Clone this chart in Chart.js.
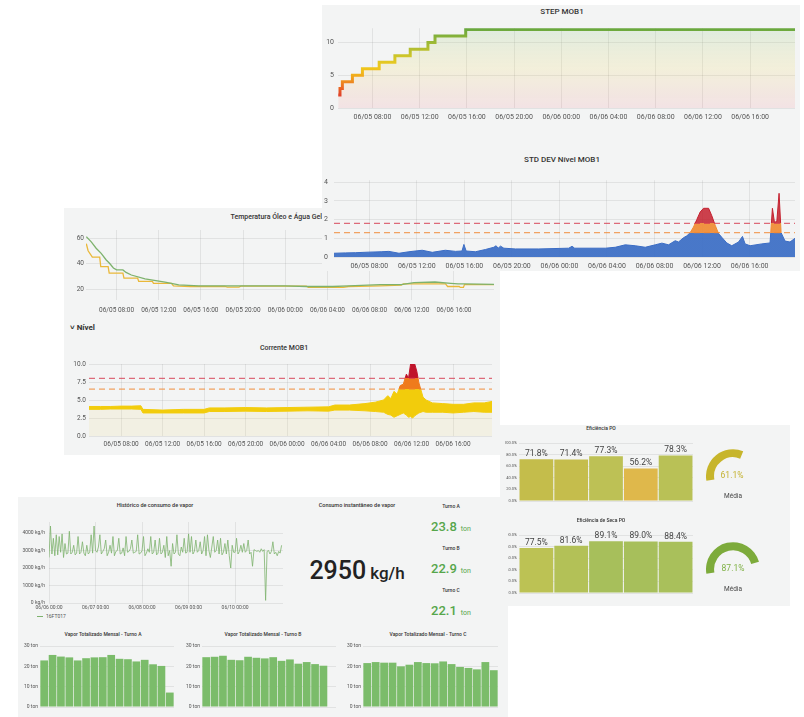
<!DOCTYPE html>
<html>
<head>
<meta charset="utf-8">
<script src="https://cdn.jsdelivr.net/npm/chart.js@4.4.0/dist/chart.umd.min.js"></script>
<style>
body { margin: 0; width: 804px; height: 717px; background: #fff; position: relative; overflow: hidden; font-family: Roboto, sans-serif; color: #333; }
.panel { position: absolute; background: #f3f4f4; }
.panel canvas { position: absolute; }
.t { position: absolute; transform: translate(-50%, -50%); white-space: nowrap; line-height: 1; }
.ttl { font-weight: 500; color: #333; }
</style>
</head>
<body>

<div class="panel" style="left:64px;top:208px;width:436px;height:247px;z-index:1">
  <div class="t ttl" style="left:218px;top:9px;font-size:7px">Temperatura Óleo e Água Gelada</div>
  <canvas id="temp" width="436" height="95" style="left:0;top:14px"></canvas>
  <div style="position:absolute;left:6px;top:115px;font-size:8px;font-weight:700;color:#333;white-space:nowrap">˅ Nível</div>
  <div class="t ttl" style="left:220px;top:140px;font-size:7px">Corrente MOB1</div>
  <canvas id="corrente" width="436" height="96" style="left:0;top:147px"></canvas>
</div>

<div class="panel" style="left:322px;top:5px;width:478px;height:266px;z-index:2">
  <div class="t ttl" style="left:240px;top:7px;font-size:8px">STEP MOB1</div>
  <canvas id="step" width="478" height="105" style="left:0;top:15px"></canvas>
  <div class="t ttl" style="left:240px;top:155px;font-size:8px">STD DEV Nível MOB1</div>
  <canvas id="stddev" width="478" height="100" style="left:0;top:165px"></canvas>
</div>

<div class="panel" style="left:500px;top:425px;width:290px;height:181px;z-index:1">
  <div class="t ttl" style="left:101px;top:3px;font-size:5px">Eficiência PO</div>
  <canvas id="eff1" width="195" height="77" style="left:5px;top:11px"></canvas>
  <canvas id="gauge1" width="54" height="32" style="left:206px;top:24px"></canvas>
  <div class="t" style="left:232px;top:50px;font-size:8.5px;color:#c4b230">61.1%</div>
  <div class="t" style="left:233px;top:71px;font-size:6.5px;color:#444">Média</div>
  <div class="t ttl" style="left:101px;top:95px;font-size:5px">Eficiência de Seca PO</div>
  <canvas id="eff2" width="195" height="77" style="left:5px;top:103px"></canvas>
  <canvas id="gauge2" width="54" height="32" style="left:206px;top:117px"></canvas>
  <div class="t" style="left:233px;top:143px;font-size:8.5px;color:#7eb043">87.1%</div>
  <div class="t" style="left:233px;top:164px;font-size:6.5px;color:#444">Média</div>
</div>

<div class="panel" style="left:18px;top:497px;width:490px;height:220px;z-index:2">
  <div class="t ttl" style="left:137px;top:9px;font-size:5.5px">Histórico de consumo de vapor</div>
  <canvas id="hist" width="270" height="100" style="left:0;top:15px"></canvas>
  <div style="position:absolute;left:19px;top:116px;font-size:5px;color:#555;white-space:nowrap"><span style="display:inline-block;width:6px;height:1.5px;background:#7EB26D;vertical-align:middle;margin-right:3px"></span>16FT017</div>
  <div class="t ttl" style="left:339px;top:9px;font-size:5.5px">Consumo instantâneo de vapor</div>
  <div class="t" style="left:339px;top:73px;color:#222"><span style="font-size:25px;font-weight:500">2950</span> <span style="font-size:17px;font-weight:500">kg/h</span></div>
  <div class="t ttl" style="left:433px;top:9px;font-size:5px">Turno A</div>
  <div class="t" style="left:433px;top:29px;color:#56a64b"><span style="font-size:13px;font-weight:500">23.8</span> <span style="font-size:7px">ton</span></div>
  <div class="t ttl" style="left:433px;top:51px;font-size:5px">Turno B</div>
  <div class="t" style="left:433px;top:71px;color:#56a64b"><span style="font-size:13px;font-weight:500">22.9</span> <span style="font-size:7px">ton</span></div>
  <div class="t ttl" style="left:433px;top:93px;font-size:5px">Turno C</div>
  <div class="t" style="left:433px;top:113px;color:#56a64b"><span style="font-size:13px;font-weight:500">22.1</span> <span style="font-size:7px">ton</span></div>
  <div class="t ttl" style="left:85px;top:137px;font-size:5px">Vapor Totalizado Mensal - Turno A</div>
  <div class="t ttl" style="left:245px;top:137px;font-size:5px">Vapor Totalizado Mensal - Turno B</div>
  <div class="t ttl" style="left:410px;top:137px;font-size:5px">Vapor Totalizado Mensal - Turno C</div>
  <canvas id="turnoA" width="160" height="77" style="left:0;top:143px"></canvas>
  <canvas id="turnoB" width="160" height="77" style="left:162px;top:143px"></canvas>
  <canvas id="turnoC" width="162" height="77" style="left:322px;top:143px"></canvas>
</div>

<script>
// hours counted from 06/05 00:00
var stepTime = [5.1, 5.25, 5.45, 6.3, 7.15, 8.57, 9.9, 11.2, 12.7, 13.3, 15.9, 43.8];
var stepValue = [2, 3, 4, 5, 6, 7, 8, 9, 10, 11, 12, 12];

var stdTime = [5.03, 6.0, 6.85, 7.97, 9.0, 9.65, 10.5, 11.33, 12.45, 13.3, 14.4, 15.25, 15.8, 15.96, 16.15,
  16.93, 17.77, 18.48, 18.67, 18.84, 19.04, 19.32, 20.3, 22.26, 24.78, 25.06, 25.28, 27.86, 28.7, 29.54,
  30.38, 31.22, 32.06, 32.62, 33.18, 33.74, 34.02, 34.44, 34.72, 35.0, 35.28, 35.56, 35.84, 36.12, 36.55,
  36.82, 37.1, 37.39, 37.66, 38.08, 38.5, 39.07, 39.4, 39.62, 40.04, 41.03, 41.72, 41.92, 42.09, 42.29,
  42.48, 42.65, 42.98, 43.4, 43.82];
var stdValue = [0.2, 0.22, 0.23, 0.26, 0.28, 0.3, 0.2, 0.28, 0.36, 0.25, 0.36, 0.3, 0.32, 0.67, 0.32,
  0.28, 0.4, 0.52, 0.6, 0.47, 0.58, 0.47, 0.43, 0.43, 0.47, 0.57, 0.47, 0.47, 0.52, 0.65,
  0.6, 0.52, 0.65, 0.74, 0.65, 0.87, 0.8, 1.03, 1.13, 1.3, 1.6, 2.0, 2.4, 2.6, 2.6,
  2.2, 1.7, 1.25, 1.05, 0.75, 0.6, 0.8, 1.1, 0.7, 0.6, 0.7, 0.75, 2.6, 1.85, 1.9,
  3.4, 1.3, 0.85, 0.8, 1.0];
var stdThresholds = [1.3, 1.8];

var oleoTime = [5.13, 5.6, 6.06, 6.54, 7.0, 7.35, 7.7, 8.0, 8.6, 8.9, 9.4, 10.7, 12.6, 13.9, 15.8,
  20, 24, 26, 28.5, 30, 31.8, 33, 35, 36.2, 38.2, 39.7, 40.4, 41, 43.8];
var oleoValue = [61, 57, 52, 48, 43, 40, 36.5, 35, 35, 33, 31, 28, 25.5, 23.3, 22.5,
  22.5, 22.5, 22, 22, 22.5, 23, 23.5, 23.5, 25, 25.5, 24.5, 24, 24, 23.7];
var aguaTime = [5.13, 5.3, 5.7, 6.4, 6.5, 7.2, 7.3, 8.6, 8.7, 10.0, 10.1, 11.4, 11.5, 13.2, 13.4,
  15, 18.3, 18.5, 19.6, 19.8, 26, 26.2, 29.5, 30, 33, 35, 35.2, 39.2, 39.4, 40.5, 40.6, 40.9, 41, 43.8];
var aguaValue = [55.5, 50, 45, 45, 37.5, 37.5, 32.5, 32.5, 28.5, 28.5, 26, 26, 24.5, 24.5, 22.5,
  22, 22, 21.5, 21.5, 22.3, 22.3, 21.3, 21.3, 22, 22.5, 23, 24, 24, 22, 22, 21.3, 21.3, 23.5, 23.5];

// Corrente MOB1: noisy band given by its upper and lower edge
var corrTime = [4.9, 6, 7, 8, 9, 9.9, 10.1, 12, 14, 16, 16.5, 18, 20, 22, 24, 26, 28, 28.6, 30, 31.5,
  32.5, 33.3, 33.7, 34.0, 34.3, 34.6, 34.9, 35.2, 35.5, 35.7, 35.9, 36.1, 36.3, 36.5, 36.7,
  36.9, 37.1, 37.4, 38, 39, 40, 41, 42, 43, 43.75];
var corrUpper = [4.1, 4.1, 4.1, 4.15, 4.15, 4.2, 3.7, 3.6, 3.7, 3.7, 3.9, 3.9, 3.95, 3.9, 3.95, 4.0, 4.05, 4.3, 4.3, 4.5,
  4.7, 5.0, 5.6, 5.2, 6.2, 5.8, 7.0, 7.2, 8.6, 8.0, 10, 10, 10, 9.0, 7.4,
  6.4, 5.4, 5.0, 4.6, 4.5, 4.4, 4.4, 4.6, 4.6, 4.8];
var corrLower = [3.7, 3.7, 3.75, 3.75, 3.75, 3.7, 3.2, 3.2, 3.2, 3.2, 3.4, 3.4, 3.45, 3.4, 3.45, 3.5, 3.45, 3.6, 3.6, 3.5,
  3.4, 3.3, 3.0, 2.9, 2.6, 2.8, 3.0, 3.2, 2.9, 2.6, 2.7, 2.5, 2.8, 3.0, 3.2,
  3.3, 3.4, 3.3, 3.3, 3.3, 3.2, 3.3, 3.4, 3.3, 3.3];
var corrThresholds = [6.5, 8];

var effDays = ['06/06 00:00', '06/07 00:00', '06/08 00:00', '06/09 00:00', '06/10 00:00'];
var effPO = [71.8, 71.4, 77.3, 56.2, 78.3];
var effSeca = [77.5, 81.6, 89.1, 89.0, 88.4];
var mediaPO = 61.1;
var mediaSeca = 87.1;

// 16FT017, one sample every 45 minutes from 06/06 00:00
var histDays = ['06/06 00:00', '06/07 00:00', '06/08 00:00', '06/09 00:00', '06/10 00:00'];
var histValue = [
  2600, 4400, 2800, 3700, 2700, 3900, 2750, 3800, 2900, 3950, 2600, 3400, 2800, 2850, 4100, 2800,
  2900, 3300, 2750, 2850, 3800, 2800, 2900, 3500, 2850, 2700, 3300, 2800, 2900, 3900, 2850, 4400,
  3000, 2900, 3200, 3900, 2800, 2950, 3100, 3600, 2700, 2900, 3300, 2850, 3800, 2700, 2950, 3000,
  3700, 2800, 2850, 3150, 2700, 3800, 2900, 2950, 3100, 3600, 2850, 2900, 2950, 3900, 2800, 2850,
  3000, 3800, 2700, 2850, 3100, 2900, 3800, 2800, 2900, 3600, 2750, 2850, 3700, 2800, 2900, 3300,
  2600, 3800, 2700, 3000, 2100, 3400, 2800, 2900, 3900, 2800, 2700, 3200, 2900, 3700, 2850, 2900,
  3950, 2900, 3800, 2800, 2950, 3600, 2900, 3000, 3500, 2800, 3000, 3800, 2700, 3900, 3000, 2600,
  3200, 3800, 2900, 3000, 3600, 2800, 3700, 2750, 2900, 3400, 2800, 3600, 2700, 2000, 3300, 2900,
  2900, 3700, 2800, 2950, 3300, 2900, 3400, 2900, 3000, 3600, 2800, 2900, 2100, 3050, 3000, 2950,
  3000, 2900, 3100, 2950, 3050, 150, 2950, 3000, 2800, 2950, 3500, 2800, 2900, 2700, 2950, 2850, 3300];

var monthDays = ['06/01', '06/02', '06/03', '06/04', '06/05', '06/06', '06/07', '06/08',
  '06/09', '06/10', '06/11', '06/12', '06/13', '06/14', '06/15', '06/16'];
var turnoA = [22.9, 25.6, 24.8, 24.4, 22.9, 24.0, 24.4, 24.5, 25.6, 23.7, 23.5, 22.4, 23.2, 21.0, 20.2, 7.1];
var turnoB = [24.5, 24.7, 25.2, 23.2, 23.0, 24.7, 24.2, 23.9, 24.5, 22.7, 23.4, 21.3, 22.1, 21.1, 20.3, null];
var turnoC = [21.6, 22.1, 21.8, 21.8, 20.0, 20.8, 22.1, 21.6, 21.5, 22.4, 21.1, 19.7, 19.2, 18.5, 22.1, 18.1];

var hourTicks = [8, 12, 16, 20, 24, 28, 32, 36, 40];

var FONT = 'Roboto';
var GRID = 'rgba(0,0,0,0.07)';
var TICK = '#555';

function pairs(xs, ys) {
  return xs.map(function (x, i) { return { x: x, y: ys[i] }; });
}

function hourLabel(v) {
  var day = v < 24 ? '06/05' : '06/06';
  var hh = String(v % 24).padStart(2, '0');
  return day + ' ' + hh + ':00';
}

function fixedTicks(values) {
  return function (s) { s.ticks = values.map(function (v) { return { value: v }; }); };
}

function hourAxis(min, max, size, pad, height) {
  return {
    type: 'linear', min: min, max: max,
    afterBuildTicks: fixedTicks(hourTicks),
    afterFit: function (s) { s.height = height; },
    grid: { color: GRID, drawTicks: false },
    border: { display: false },
    ticks: { callback: hourLabel, color: TICK, font: { family: FONT, size: size }, padding: pad, maxRotation: 0, autoSkip: false }
  };
}

function valueAxis(min, max, values, size, pad, width, fmt) {
  return {
    type: 'linear', min: min, max: max,
    afterBuildTicks: fixedTicks(values),
    afterFit: function (s) { s.width = width; },
    grid: { color: GRID, drawTicks: false },
    border: { display: false },
    ticks: { callback: fmt || function (v) { return v; }, color: TICK, font: { family: FONT, size: size }, padding: pad }
  };
}

function base(padding, scales) {
  return {
    responsive: false, animation: false, devicePixelRatio: 1, events: [],
    layout: { padding: padding },
    elements: { point: { radius: 0 }, line: { tension: 0 } },
    plugins: { legend: { display: false }, tooltip: { enabled: false }, title: { display: false } },
    scales: scales
  };
}

// vertical gradient whose stops are given as [value, colour] on the y scale
function valueGradient(stops, fallback) {
  return function (ctx) {
    var chart = ctx.chart;
    var area = chart.chartArea;
    if (!area) return fallback;
    var y = chart.scales.y;
    var g = chart.ctx.createLinearGradient(0, area.bottom, 0, area.top);
    var h = area.bottom - area.top;
    stops.forEach(function (s) {
      var f = (area.bottom - y.getPixelForValue(s[0])) / h;
      g.addColorStop(Math.min(1, Math.max(0, f)), s[1]);
    });
    return g;
  };
}

function thresholdSet(value, x0, x1, color) {
  return {
    data: [{ x: x0, y: value }, { x: x1, y: value }],
    borderColor: color, borderWidth: 1.3, borderDash: [6, 4], fill: false, order: 0
  };
}

// STEP MOB1
new Chart(document.getElementById('step'), {
  type: 'line',
  data: {
    datasets: [{
      data: pairs(stepTime, stepValue),
      stepped: 'before',
      borderWidth: 3,
      borderColor: valueGradient([[2, '#e0432b'], [3, '#ea6424'], [4, '#ee8a20'], [5, '#f1ad1c'], [6, '#f0c51b'],
        [7, '#e4c822'], [8, '#cdc52a'], [9, '#b5be30'], [10, '#9cb935'], [11, '#84b139'], [12, '#6aa83e']], '#6aa83e'),
      fill: 'origin',
      backgroundColor: valueGradient([[0, 'rgba(242,73,92,0.10)'], [6, 'rgba(242,204,12,0.11)'], [12, 'rgba(115,191,105,0.15)']], 'rgba(0,0,0,0)')
    }]
  },
  options: base({ top: 8, right: 5, left: 0, bottom: 0 }, {
    x: hourAxis(5.08, 43.8, 7, 5, 17),
    y: valueAxis(0, 12.2, [0, 5, 10], 7, 4, 16)
  })
});

// STD DEV Nível MOB1
new Chart(document.getElementById('stddev'), {
  type: 'line',
  data: {
    datasets: [
      thresholdSet(stdThresholds[1], 5.03, 43.82, 'rgba(214,60,80,0.75)'),
      thresholdSet(stdThresholds[0], 5.03, 43.82, 'rgba(240,135,50,0.75)'),
      {
        data: pairs(stdTime, stdValue),
        borderWidth: 1, order: 1,
        borderColor: valueGradient([[0, '#3a6cc4'], [stdThresholds[0], '#3a6cc4'], [stdThresholds[0], '#ef8a30'],
          [stdThresholds[1], '#ef8a30'], [stdThresholds[1], '#c4202e'], [4.1, '#c4202e']], '#3a6cc4'),
        fill: 'origin',
        backgroundColor: valueGradient([[0, 'rgba(58,108,196,0.92)'], [stdThresholds[0], 'rgba(58,108,196,0.92)'],
          [stdThresholds[0], 'rgba(240,138,50,0.92)'], [stdThresholds[1], 'rgba(240,138,50,0.92)'],
          [stdThresholds[1], 'rgba(196,32,46,0.85)'], [4.1, 'rgba(196,32,46,0.85)']], '#3a6cc4')
      }
    ]
  },
  options: base({ top: 6, right: 5, left: 0, bottom: 0 }, {
    x: hourAxis(5.03, 43.82, 7, 5, 13),
    y: valueAxis(0, 4.1, [0, 1, 2, 3, 4], 7, 6, 12)
  })
});

// Temperatura Óleo e Água Gelada
new Chart(document.getElementById('temp'), {
  type: 'line',
  data: {
    datasets: [
      { data: pairs(oleoTime, oleoValue), borderColor: '#7EB26D', borderWidth: 1.3, fill: false },
      { data: pairs(aguaTime, aguaValue), borderColor: '#EAB839', borderWidth: 1.3, fill: false }
    ]
  },
  options: base({ top: 8, right: 6, left: 0, bottom: 0 }, {
    x: hourAxis(5.1, 43.8, 6.5, 6, 17),
    y: valueAxis(11.4, 66.3, [20, 40, 60], 6.5, 2, 22)
  })
});

// Corrente MOB1
new Chart(document.getElementById('corrente'), {
  type: 'line',
  data: {
    datasets: [
      thresholdSet(corrThresholds[1], 4.9, 43.75, 'rgba(214,60,80,0.75)'),
      thresholdSet(corrThresholds[0], 4.9, 43.75, 'rgba(240,135,50,0.75)'),
      {
        data: pairs(corrTime, corrLower), order: 1,
        borderColor: '#f2cc0c', borderWidth: 1,
        fill: 'origin', backgroundColor: 'rgba(242,204,12,0.07)'
      },
      {
        data: pairs(corrTime, corrUpper), order: 1,
        borderWidth: 1,
        borderColor: valueGradient([[0, '#f2cc0c'], [corrThresholds[0], '#f2cc0c'], [corrThresholds[0], '#ef7b1c'],
          [corrThresholds[1], '#ef7b1c'], [corrThresholds[1], '#c0142a'], [10, '#c0142a']], '#f2cc0c'),
        fill: '-1',
        backgroundColor: valueGradient([[0, '#f2cc0c'], [corrThresholds[0], '#f2cc0c'], [corrThresholds[0], '#ef7b1c'],
          [corrThresholds[1], '#ef7b1c'], [corrThresholds[1], '#c0142a'], [10, '#c0142a']], '#f2cc0c')
      }
    ]
  },
  options: base({ top: 9, right: 8, left: 0, bottom: 0 }, {
    x: hourAxis(4.9, 43.75, 6.5, 4, 15),
    y: valueAxis(0, 10, [0, 2.5, 5, 7.5, 10], 6.5, 3, 25, function (v) { return v.toFixed(1); })
  })
});

// value labels above the efficiency bars
var barValueLabels = {
  id: 'barValueLabels',
  afterDatasetsDraw: function (chart) {
    var c = chart.ctx;
    var meta = chart.getDatasetMeta(0);
    var values = chart.data.datasets[0].data;
    c.save();
    c.font = '8.5px Roboto';
    c.fillStyle = '#444';
    c.textAlign = 'center';
    c.textBaseline = 'bottom';
    meta.data.forEach(function (bar, i) {
      c.fillText(values[i].toFixed(1) + '%', bar.x, bar.y - 1);
    });
    c.restore();
  }
};

function effChart(id, values, colors) {
  new Chart(document.getElementById(id), {
    type: 'bar',
    data: { labels: effDays, datasets: [{ data: values, backgroundColor: colors, borderWidth: 0, barPercentage: 0.97, categoryPercentage: 1 }] },
    options: base({ top: 7, right: 7, left: 0, bottom: 0 }, {
      x: {
        afterFit: function (s) { s.height = 12; },
        grid: { display: false }, border: { display: false },
        ticks: { color: TICK, font: { family: FONT, size: 4 }, padding: 4, maxRotation: 0, autoSkip: false }
      },
      y: valueAxis(0, 100, [0, 20, 40, 60, 80, 100], 4, 2, 14, function (v) { return v.toFixed(1) + '%'; })
    }),
    plugins: [barValueLabels]
  });
}

effChart('eff1', effPO, ['#c4bd4b', '#c5bd4c', '#bdc155', '#dfb84b', '#b9c156']);
effChart('eff2', effSeca, ['#bcc254', '#b3c157', '#a7bf5b', '#a7bf5b', '#a9c05b']);

function gauge(id, value, color) {
  new Chart(document.getElementById(id), {
    type: 'doughnut',
    data: { datasets: [{ data: [value, 100 - value], backgroundColor: [color, 'rgba(0,0,0,0)'], borderWidth: 0 }] },
    options: {
      responsive: false, animation: false, devicePixelRatio: 1, events: [],
      rotation: -100, circumference: 200, cutout: '70%',
      layout: { padding: 0 },
      plugins: { legend: { display: false }, tooltip: { enabled: false } }
    }
  });
}

gauge('gauge1', mediaPO, '#c7b52b');
gauge('gauge2', mediaSeca, '#7dab3b');

// Histórico de consumo de vapor
new Chart(document.getElementById('hist'), {
  type: 'line',
  data: {
    datasets: [{
      data: histValue.map(function (v, i) { return { x: i / 32, y: v }; }),
      borderColor: '#7EB26D', borderWidth: 0.8, fill: false
    }]
  },
  options: base({ top: 10, right: 5, left: 0, bottom: 0 }, {
    x: {
      type: 'linear', min: 0, max: 5.03,
      afterBuildTicks: fixedTicks([0, 1, 2, 3, 4]),
      afterFit: function (s) { s.height = 9; },
      grid: { color: GRID, drawTicks: false }, border: { display: false },
      ticks: { callback: function (v) { return histDays[v]; }, color: TICK, font: { family: FONT, size: 5 }, padding: 2, maxRotation: 0, autoSkip: false }
    },
    y: valueAxis(0, 4630, [0, 1000, 2000, 3000, 4000], 5, 4, 31, function (v) { return v + ' kg/h'; })
  })
});

function monthChart(id, values, yWidth) {
  new Chart(document.getElementById(id), {
    type: 'bar',
    data: { labels: monthDays, datasets: [{ data: values, backgroundColor: 'rgba(116,184,98,0.95)', borderWidth: 0, barPercentage: 0.92, categoryPercentage: 1 }] },
    options: base({ top: 6, right: 4, left: 0, bottom: 0 }, {
      x: {
        afterFit: function (s) { s.height = 10; },
        grid: { display: false }, border: { display: false },
        ticks: {
          callback: function (v, i) { return i % 6 === 0 ? monthDays[i] : ''; },
          color: TICK, font: { family: FONT, size: 5 }, padding: 4, maxRotation: 0, autoSkip: false
        }
      },
      y: valueAxis(0, 30, [0, 10, 20, 30], 5, 2, yWidth, function (v) { return v + ' ton'; })
    })
  });
}

monthChart('turnoA', turnoA, 22);
monthChart('turnoB', turnoB, 22);
monthChart('turnoC', turnoC, 23);
</script>
</body>
</html>
